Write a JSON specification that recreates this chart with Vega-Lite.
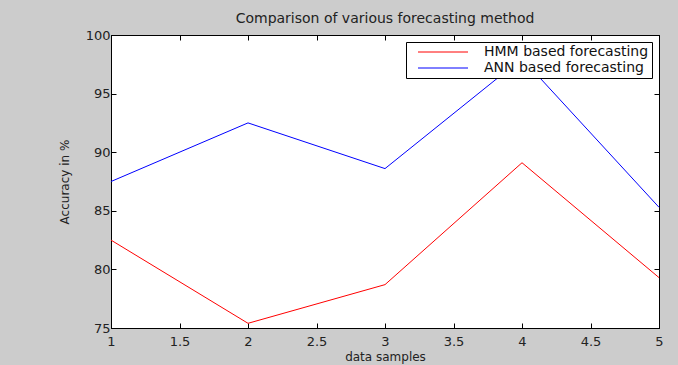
{
  "$schema": "https://vega.github.io/schema/vega-lite/v6.json",
  "width": 548,
  "height": 293,
  "autosize": {"type": "none"},
  "padding": {"top": 35, "left": 111, "right": 19, "bottom": 37},
  "background": "#cccccc",
  "title": {"text": "Comparison of various forecasting method", "fontSize": 14, "fontWeight": "normal", "font": "DejaVu Sans", "color": "#222222", "offset": 3},
  "data": {"values": [
    {"sample": 1, "accuracy": 82.5, "method": "HMM based forecasting"},
    {"sample": 2, "accuracy": 75.4, "method": "HMM based forecasting"},
    {"sample": 3, "accuracy": 78.7, "method": "HMM based forecasting"},
    {"sample": 4, "accuracy": 89.1, "method": "HMM based forecasting"},
    {"sample": 5, "accuracy": 79.3, "method": "HMM based forecasting"},
    {"sample": 1, "accuracy": 87.5, "method": "ANN based forecasting"},
    {"sample": 2, "accuracy": 92.5, "method": "ANN based forecasting"},
    {"sample": 3, "accuracy": 88.6, "method": "ANN based forecasting"},
    {"sample": 4, "accuracy": 98.0, "method": "ANN based forecasting"},
    {"sample": 5, "accuracy": 85.3, "method": "ANN based forecasting"}
  ]},
  "layer": [
    {
      "mark": {"type": "line", "strokeWidth": 1},
      "encoding": {
        "x": {"field": "sample", "type": "quantitative", "scale": {"domain": [1, 5], "nice": false, "zero": false},
              "axis": {"orient": "bottom", "title": "data samples", "values": [1, 1.5, 2, 2.5, 3, 3.5, 4, 4.5, 5], "labelExpr": "datum.value", "labelPadding": 12, "titlePadding": 3}},
        "y": {"field": "accuracy", "type": "quantitative", "scale": {"domain": [75, 100], "nice": false, "zero": false},
              "axis": {"orient": "left", "title": "Accuracy in %", "values": [75, 80, 85, 90, 95, 100], "labelPadding": 6, "titlePadding": 14}},
        "color": {"field": "method", "type": "nominal",
                  "scale": {"domain": ["HMM based forecasting", "ANN based forecasting"], "range": ["#ff0000", "#0000ff"]},
                  "legend": {"title": null, "orient": "top-right", "offset": 7, "fillColor": "white", "strokeColor": "#000000", "padding": 3,
                             "symbolType": "M-5,0H5", "symbolSize": 100, "symbolOffset": 27, "symbolStrokeWidth": 1, "labelFontSize": 14, "labelFont": "DejaVu Sans", "labelColor": "#111111", "labelLimit": 300, "rowPadding": 2, "labelOffset": 34}}
      }
    },
    {
      "mark": {"type": "line", "opacity": 0},
      "encoding": {
        "x": {"field": "sample", "type": "quantitative", "axis": {"orient": "top", "title": null, "labels": false, "values": [1, 1.5, 2, 2.5, 3, 3.5, 4, 4.5, 5]}},
        "y": {"field": "accuracy", "type": "quantitative", "axis": {"orient": "right", "title": null, "labels": false, "values": [75, 80, 85, 90, 95, 100]}},
        "detail": {"field": "method"}
      }
    }
  ],
  "resolve": {"axis": {"x": "independent", "y": "independent"}},
  "config": {
    "view": {"stroke": "#000000", "strokeWidth": 1, "fill": "white"},
    "axis": {"domainColor": "#000000", "tickColor": "#000000", "tickSize": -5, "grid": false, "labelFont": "DejaVu Sans", "labelFontSize": 13, "labelColor": "#222222", "titleFont": "DejaVu Sans", "titleFontSize": 12, "titleFontWeight": "normal", "titleColor": "#222222", "labelFlush": false, "labelOverlap": false}
  }
}
